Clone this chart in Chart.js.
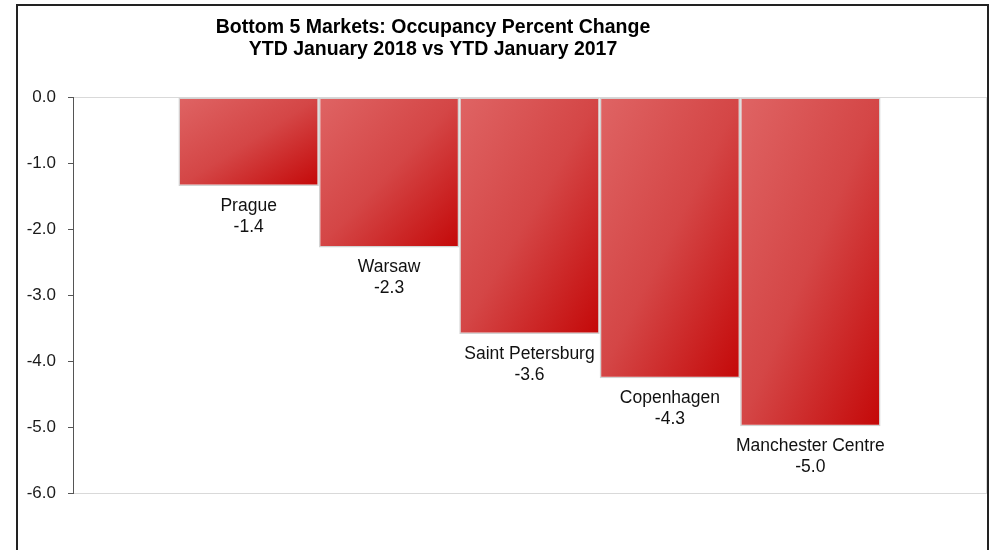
<!DOCTYPE html>
<html>
<head>
<meta charset="utf-8">
<script src="https://cdn.jsdelivr.net/npm/chart.js@4.4.1/dist/chart.umd.min.js"></script>
<style>
  html, body { margin: 0; padding: 0; background: #fff; width: 994px; height: 550px; overflow: hidden; }
  #frame { position: absolute; left: 16px; top: 4px; width: 969px; height: 600px; border: 2px solid #222; box-sizing: content-box; }
  #wrap { position: absolute; left: 0; top: 0; width: 994px; height: 550px; }
</style>
</head>
<body>
<div id="frame"></div>
<div id="wrap"><canvas id="c" width="994" height="550"></canvas></div>
<script>
const titleLines = ['Bottom 5 Markets: Occupancy Percent Change', 'YTD January 2018 vs YTD January 2017'];
const markets = ['Prague', 'Warsaw', 'Saint Petersburg', 'Copenhagen', 'Manchester Centre'];
const occupancyChange = [-1.35, -2.28, -3.59, -4.26, -4.99];
const yMin = -6;
const yMax = 0;
const yStep = 1;

const FONT = '"Liberation Sans", Arial, Helvetica, sans-serif';

const datasets = markets.map((m, i) => ({
  label: m,
  data: [occupancyChange[i]],
  backgroundColor: '#d44a4a',
  borderColor: '#d2d2d2',
  borderWidth: 1.5,
  borderSkipped: false,
  categoryPercentage: 0.769,
  barPercentage: 1.0
}));

// Gradient scaled to each bar's shape: isolines run parallel to the bar's
// bottom-left/top-right diagonal, light at top-left, dark at bottom-right.
const gradientPlugin = {
  id: 'barGradient',
  beforeDatasetsDraw(chart) {
    const ctx = chart.ctx;
    chart.data.datasets.forEach((ds, di) => {
      const meta = chart.getDatasetMeta(di);
      meta.data.forEach(el => {
        const left = el.x - el.width / 2;
        const top = Math.min(el.y, el.base);
        const w = el.width, h = Math.abs(el.base - el.y) || 1;
        const k = 2 * w * h / (w * w + h * h);
        const g = ctx.createLinearGradient(left, top, left + k * h, top + k * w);
        g.addColorStop(0, '#df6464');
        g.addColorStop(0.5, '#d44646');
        g.addColorStop(1, '#c40808');
        el.options = Object.assign({}, el.options, { backgroundColor: g });
      });
    });
  }
};

const labelPlugin = {
  id: 'barLabels',
  afterDatasetsDraw(chart) {
    const ctx = chart.ctx;
    ctx.save();
    ctx.font = '17.5px ' + FONT;
    ctx.fillStyle = '#111';
    ctx.textAlign = 'center';
    ctx.textBaseline = 'alphabetic';
    chart.data.datasets.forEach((ds, di) => {
      const meta = chart.getDatasetMeta(di);
      meta.data.forEach((el, j) => {
        const v = ds.data[j];
        const bottom = Math.max(el.y, el.base);
        ctx.fillText(ds.label, el.x, bottom + 25);
        ctx.fillText(v.toFixed(1), el.x, bottom + 46);
      });
    });
    ctx.restore();
  }
};

const titlePlugin = {
  id: 'customTitle',
  afterDraw(chart) {
    const ctx = chart.ctx;
    ctx.save();
    ctx.font = 'bold 19.5px ' + FONT;
    ctx.fillStyle = '#000';
    ctx.textAlign = 'center';
    ctx.textBaseline = 'alphabetic';
    ctx.fillText(titleLines[0], 433, 33);
    ctx.fillText(titleLines[1], 433, 55);
    ctx.restore();
  }
};

new Chart(document.getElementById('c'), {
  type: 'bar',
  data: { labels: [''], datasets },
  options: {
    responsive: false,
    animation: false,
    events: [],
    layout: { padding: { left: 17, top: 97, right: 8, bottom: 57 } },
    plugins: { legend: { display: false }, title: { display: false }, tooltip: { enabled: false } },
    scales: {
      x: {
        grid: { display: true, color: '#d9d9d9', lineWidth: 1, drawTicks: false, offset: true },
        border: { display: true, color: '#d9d9d9', width: 1 },
        ticks: { display: false },
        afterFit(s) { s.height = 0; }
      },
      y: {
        min: yMin,
        max: yMax,
        ticks: {
          stepSize: yStep,
          padding: 12,
          color: '#1a1a1a',
          font: { family: FONT, size: 17 },
          callback: v => Number(v).toFixed(1)
        },
        grid: {
          color: c => (c.tick && (c.tick.value === yMin || c.tick.value === yMax)) ? '#d9d9d9' : 'rgba(0,0,0,0)',
          tickColor: '#555',
          tickLength: 5,
          lineWidth: 1
        },
        border: { display: true, color: '#555', width: 1 },
        afterFit(s) { s.width = 56; }
      }
    }
  },
  plugins: [gradientPlugin, labelPlugin, titlePlugin]
});
</script>
</body>
</html>
